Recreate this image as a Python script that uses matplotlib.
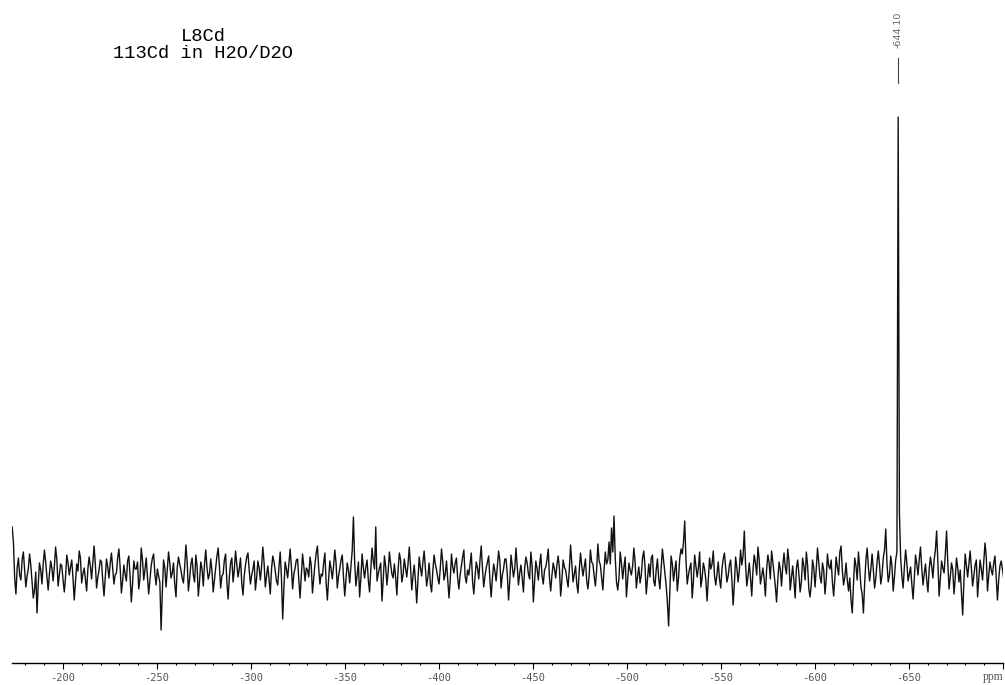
import numpy as np
import matplotlib.pyplot as plt
from matplotlib.ticker import MultipleLocator, FixedLocator

plt.rcParams['axes.unicode_minus'] = False

# 113Cd spectrum (intensity in arbitrary units, baseline = 0)
ppm_start = -173.0
ppm_step = -0.66
intensity = [
    45, 30, -6, -22, 4, 14, -3, -8, 12, 20, 2, -15, -4, 3, 18, 7, -10, -26, -18, 0,
    -41, -12, 9, 2, -12, 8, 22, 10, -5, -18, -2, 11, 4, -9, 6, 25, 12, -14, -3, 8,
    6, -8, -20, -5, 17, 9, -3, 5, 12, -6, -28, -10, 8, 1, 21, 14, -11, -2, 4, -7,
    -19, 3, 15, 6, -7, 10, 26, 8, -16, -5, 2, 12, 10, -9, -24, -6, 13, 5, -6, 9,
    19, 4, -12, -3, -1, 14, 23, 5, -21, -9, 7, -2, -9, 11, 16, -4, -30, -12, 11, 3,
    3, 10, -17, -6, 24, 12, -8, 2, 14, -5, -22, -8, 6, 14, 18, -2, -13, 3, -4, -10,
    -58, -20, 12, 4, -15, 2, 20, 9, -6, -1, 9, -12, -25, 4, 15, 8, 2, -6, -11, 5,
    27, 10, -19, -7, 8, 14, -3, -10, 17, 6, -24, -9, 10, 3, -14, 8, 22, 4, -7, -2,
    13, 1, -20, -8, 5, 16, 24, 6, -16, -4, -2, 12, 18, -10, -27, -5, 9, 14, -10, 2,
    21, 8, -5, 3, 14, -11, -23, -4, 7, 15, 19, 2, -12, -3, 3, 11, -18, -6, 11, 4,
    -8, 6, 25, 9, -15, -4, 6, -7, -22, 3, 16, 10, 1, -9, -13, 5, 20, -6, -47, -15,
    10, 3, -6, 8, 23, 5, -17, -2, 4, 12, 13, -8, -26, -3, 18, 6, -9, 4, 2, -5,
    15, 7, -21, -6, 8, 19, 26, 4, -12, -2, -4, 9, 19, -11, -28, -7, 11, 3, -7, 6,
    22, 9, -16, -4, 3, 12, 17, -5, -24, -8, 9, 2, -11, 6, 21, 55, 10, -14, -3, 10,
    -25, -6, 18, 4, -6, 5, 12, -8, -20, 2, 24, 11, 3, 45, -9, -2, 4, 9, -29, -8,
    16, 5, -13, 1, 20, 8, -2, -6, 8, -5, -23, 2, 19, 12, -10, -3, 13, 4, -5, 8,
    25, 6, -18, -4, 7, -9, -31, -8, 15, 4, -4, 10, 21, 3, -14, -5, 9, -12, -20, 1,
    17, 8, 2, -6, -12, 4, 23, 10, -8, -2, 11, -7, -26, -9, 18, 5, -1, 9, 14, -6,
    -17, -3, 6, 15, 22, -4, -11, 2, -3, 8, 19, -9, -22, -5, 10, 4, -7, 12, 26, 3,
    -15, -4, 4, 10, 16, -8, -25, -6, 8, 1, -9, 6, 21, 11, -16, -3, 3, 13, 13, -2,
    -28, -9, 17, 6, -5, 3, 24, 5, -13, -1, 7, -6, -20, 4, 15, 9, -2, -7, 20, 6,
    -30, -10, 11, 3, -8, 7, 18, -4, -12, 2, 5, 12, 23, -6, -19, -3, 9, 3, -6, 7,
    16, 4, -24, -8, 12, 5, 2, -7, -15, 3, 27, 9, -10, -2, 6, -12, -21, 2, 19, 6,
    -4, 5, 13, -9, -17, -3, 22, 10, 8, -4, -14, 2, 28, 11, 7, -5, -18, 3, 20, 8,
    12, 30, 8, 44, 20, 56, 14, -10, -18, -6, 20, 9, -7, 5, 15, -25, -8, 9, 2, -3,
    6, 24, 10, -16, -4, 5, -11, -3, 14, 21, 5, -22, -7, 8, -5, 14, 17, -9, -14, 2,
    13, -6, -17, 4, 23, 11, -2, -13, -30, -54, -20, 16, 8, -9, 2, 11, -19, -6, 14, 23,
    18, 30, 51, 12, -12, -3, 4, 9, -26, -9, 17, 6, -5, 4, 20, -15, -6, 9, 3, -8,
    -29, -7, 14, 3, 8, 21, -4, -13, -2, 10, -7, -16, 3, 13, 19, 5, -10, -4, 7, 12,
    -8, -33, -12, 15, 4, -10, 2, 22, 7, 16, 41, 8, -14, -4, 9, -6, -24, 2, 17, 9,
    -3, 25, 12, -12, -4, 4, -7, -24, 3, 17, 9, -7, 21, 10, -2, -14, -30, -8, 10, 3,
    -14, 6, 19, 5, -2, 23, 11, -18, -6, 6, -9, -26, 4, 12, -2, -20, -10, 14, 6, -8,
    20, 7, -17, -25, -12, 12, 4, -15, 3, 24, 10, -5, -11, 9, 2, -22, -8, 18, 6, 3,
    12, -10, -24, -6, 15, 5, -3, 20, 26, 2, -13, -5, 9, -8, -19, -6, -28, -41, -12, 14,
    6, -8, 20, 4, -15, -22, -41, -11, 12, 24, 5, -9, 3, 18, 2, -16, -6, 10, 21, 7,
    -12, -3, 14, 22, 43, 8, -10, -3, 16, 6, -19, -5, 12, 20, 455, 60, 14, -4, -16, 5,
    22, 9, -9, -2, 5, -12, -27, -7, 17, 8, -3, 13, 25, 4, -13, -2, 8, -8, -20, 3,
    15, 6, -6, 12, 22, 41, 10, -24, -6, 11, 4, -1, 18, 41, 9, -17, -5, 9, 2, -22,
    -6, 14, 4, -10, 2, -20, -43, -9, 18, 6, -5, 8, 21, 3, -14, -4, 7, 12, -25, -6,
    12, 3, -8, 10, 29, 15, -19, -3, 10, 2, -3, 9, 16, -5, -28, -8, 6, 11, 3, -6,
]
peak_ppm = -644.10
peak_label = "-644.10"
title_lines = ["L8Cd", "113Cd in H2O/D2O"]
major_ticks = [-200, -250, -300, -350, -400, -450, -500, -550, -600, -650, -700]

ppm = ppm_start + ppm_step * np.arange(len(intensity))

fig = plt.figure(figsize=(10.05, 6.85), dpi=100)
ax = fig.add_axes([12 / 1005, 22 / 685, 991 / 1005, 663 / 685])

ax.plot(ppm, intensity, color='#111111', linewidth=1.0)

ax.set_xlim(-172.9, -700)
ax.set_ylim(-91, 572)

for s in ['left', 'right', 'top']:
    ax.spines[s].set_visible(False)
ax.spines['bottom'].set_linewidth(1.0)
ax.set_yticks([])

ax.xaxis.set_major_locator(FixedLocator(major_ticks))
ax.xaxis.set_minor_locator(MultipleLocator(10))
ax.set_xticklabels([str(t) for t in major_ticks[:-1]] + [""],
                   family='DejaVu Sans Mono', fontsize=7.5, color='#555555')
ax.tick_params(axis='x', which='major', length=4, width=0.8, pad=3)
ax.tick_params(axis='x', which='minor', length=1.5, width=0.8)

# ppm unit at the right end of the axis
ax.text(-700.2, -105, "ppm", family='Liberation Serif', fontsize=8.5,
        color='#555555', ha='right', va='center', clip_on=False)

# peak label with its short leader line
ax.text(peak_ppm, 542, peak_label, rotation=90, fontsize=6.8, color='#666666',
        ha='center', va='center')
ax.plot([peak_ppm, peak_ppm], [514, 489], color='#444444', linewidth=0.8)

# sample title
fig.text(203 / 1005, 1 - 36.5 / 685, title_lines[0], family='Liberation Mono',
         fontsize=13.5, ha='center', va='center')
fig.text(203 / 1005, 1 - 54 / 685, title_lines[1], family='Liberation Mono',
         fontsize=13.5, ha='center', va='center')

fig.savefig('out.png', dpi=100)
